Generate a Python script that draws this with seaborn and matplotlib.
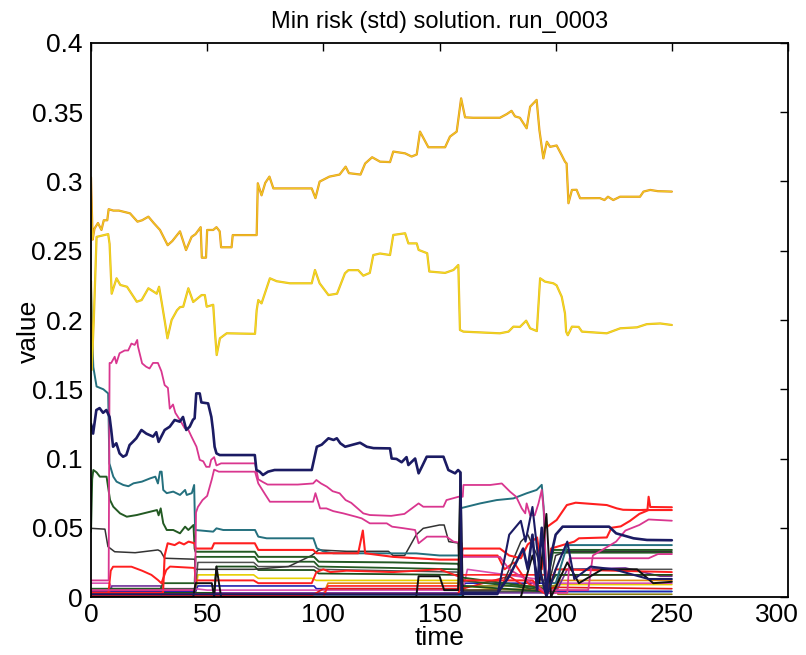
import matplotlib
matplotlib.use("Agg")
import matplotlib.pyplot as plt
from matplotlib.ticker import FuncFormatter
from matplotlib.transforms import ScaledTranslation
import seaborn as sns

sns.set_theme(style="white")
plt.rcParams['font.family'] = ['Liberation Sans', 'DejaVu Sans']
plt.rcParams['text.color'] = 'black'
plt.rcParams['axes.labelcolor'] = 'black'

TITLE = "Min risk (std) solution. run_0003"
X_TICKS = [0, 50, 100, 150, 200, 250, 300]
Y_TICKS = [0, 0.05, 0.1, 0.15, 0.2, 0.25, 0.3, 0.35, 0.4]

# Portfolio weight paths, stored as (time, value) knots
w_gold_hi = [(0, 0.303), (0.7, 0.258), (1.5, 0.266), (3, 0.27), (4.5, 0.265), (5.5, 0.272), (7, 0.272),
             (7.6, 0.28), (9.6, 0.279), (12, 0.279), (16.8, 0.277), (20, 0.271), (22, 0.272), (24.7, 0.2746),
             (27, 0.27), (29.7, 0.265), (33, 0.254), (35, 0.257), (38.3, 0.264), (40.9, 0.2505), (43.3, 0.26),
             (45, 0.262), (47.2, 0.267), (47.7, 0.245), (49.5, 0.245), (50, 0.265), (52.6, 0.265), (54, 0.267),
             (55.4, 0.264), (56, 0.2525), (60.5, 0.2525), (61, 0.2613), (71.3, 0.2613), (71.8, 0.2987),
             (73.4, 0.29), (75, 0.299), (76.8, 0.3035), (78.5, 0.295), (95, 0.295), (96.6, 0.288),
             (98.4, 0.2999), (102.6, 0.3035), (107, 0.305), (109.6, 0.3107), (111, 0.306), (116, 0.305),
             (118, 0.313), (121, 0.3175), (124.4, 0.3143), (128.7, 0.314), (130.1, 0.3216), (135.2, 0.3203),
             (138, 0.318), (140.2, 0.3195), (141.6, 0.336), (145.2, 0.3247), (152.4, 0.3247), (154.5, 0.3324),
             (157.4, 0.336), (159.3, 0.36), (161, 0.3463), (164.5, 0.346), (176, 0.346), (179, 0.3487),
             (181, 0.351), (182.5, 0.347), (184.6, 0.346), (187.5, 0.3384), (189, 0.354), (191.8, 0.3589),
             (193, 0.337), (194, 0.325), (194.7, 0.3167), (196.2, 0.3287), (197.6, 0.325), (200.4, 0.326),
             (202.6, 0.319), (204, 0.3143), (204.7, 0.313), (205.5, 0.2843), (207, 0.2939), (209, 0.294),
             (210.5, 0.2879), (219, 0.288), (221, 0.2866), (222.5, 0.289), (224.8, 0.2866), (227.7, 0.289),
             (236.3, 0.289), (237.8, 0.2927), (240.7, 0.2939), (244, 0.293), (250, 0.2927)]

w_gold_lo = [(0, 0.228), (0.3, 0.164), (1.2, 0.2), (2.4, 0.26), (7.4, 0.262), (8, 0.255), (8.9, 0.219),
             (11, 0.2301), (12.6, 0.2253), (15.5, 0.224), (19.7, 0.2132), (21.8, 0.2144), (24.7, 0.2229),
             (28.3, 0.219), (29.3, 0.224), (30.5, 0.212), (31.9, 0.1976), (32.9, 0.1868), (34.7, 0.2),
             (37, 0.207), (38.3, 0.2093), (39.7, 0.2096), (41.9, 0.2229), (44, 0.213), (47.6, 0.218),
             (49, 0.218), (49.8, 0.2096), (52.6, 0.211), (53.4, 0.1904), (54.1, 0.1747), (55.5, 0.1868),
             (58.4, 0.1904), (70.6, 0.19), (71.3, 0.207), (72, 0.2144), (73.4, 0.212), (77, 0.2301),
             (79.9, 0.228), (85.6, 0.2265), (95, 0.2265), (96.4, 0.2361), (98.4, 0.2265), (102.2, 0.218),
             (105.9, 0.219), (109.3, 0.2337), (110.8, 0.236), (115, 0.236), (117.2, 0.232), (120, 0.234),
             (121.5, 0.2469), (124.4, 0.248), (128.7, 0.2469), (130.1, 0.2614), (135.2, 0.2626),
             (136.6, 0.2553), (140.2, 0.2553), (141, 0.2506), (144.7, 0.2482), (145.6, 0.235), (152.4, 0.234),
             (156, 0.2361), (158.1, 0.2397), (158.8, 0.1928), (160.3, 0.1916), (176, 0.1904), (179.7, 0.1916),
             (181.8, 0.1952), (184.6, 0.195), (187.3, 0.1995), (189, 0.194), (191.9, 0.192), (193.3, 0.2301),
             (195.4, 0.2277), (199, 0.2265), (200.4, 0.225), (202.6, 0.2168), (204, 0.2048), (204.5, 0.1916),
             (205.2, 0.189), (207, 0.1952), (209.9, 0.195), (211.3, 0.1916), (222, 0.1904), (227.8, 0.194),
             (235, 0.1947), (239.2, 0.197), (245, 0.1975), (250, 0.1964)]

w_magenta_a = [(0, 0.012), (7.6, 0.012), (8, 0.169), (8.7, 0.169), (10.2, 0.1735), (10.9, 0.1687), (12.3, 0.176),
               (14.5, 0.178), (16, 0.178), (17.4, 0.183), (18.8, 0.182), (19.9, 0.1856), (20.2, 0.181),
               (22, 0.1687), (23.7, 0.1663), (25.2, 0.165), (26.7, 0.169), (28.8, 0.169), (30.3, 0.163),
               (31.7, 0.153), (33.1, 0.151), (33.9, 0.136), (35.3, 0.139), (36.3, 0.133), (38.2, 0.128),
               (40.3, 0.122), (41.8, 0.121), (43.2, 0.116), (45.4, 0.1085), (46.8, 0.099), (48.3, 0.098),
               (49.6, 0.094), (51, 0.094), (51.7, 0.099), (53, 0.101), (54, 0.095), (56, 0.0965),
               (70.6, 0.0965), (72, 0.085), (74, 0.083), (76, 0.0812), (89, 0.0812), (95.6, 0.082),
               (97, 0.0845), (99, 0.082), (101.5, 0.0797), (104, 0.0764), (107, 0.0749), (109.6, 0.07),
               (112, 0.068), (117.2, 0.0604), (120, 0.0592), (129.2, 0.0586), (134.9, 0.06), (141, 0.0676),
               (143, 0.0652), (151.7, 0.0652), (153, 0.07), (158.2, 0.0724), (160, 0.0724), (160.3, 0.0809),
               (171.8, 0.0809), (176.8, 0.082), (180.4, 0.076), (183, 0.0724), (185.4, 0.064), (186.9, 0.0604),
               (187.5, 0.0676), (189, 0.059), (191, 0.059), (192.6, 0.0676), (194, 0.0773), (195, 0.06),
               (196, 0.005), (214, 0.005), (216, 0.03), (226, 0.04), (230, 0.048), (236, 0.052), (240, 0.056),
               (250, 0.0551)]

w_magenta_b = [(0, 0.005), (44.8, 0.005), (45.2, 0.061), (46, 0.065), (48, 0.07), (50, 0.073), (52, 0.085),
               (53, 0.092), (55, 0.0905), (70.6, 0.0905), (72, 0.082), (75, 0.074), (77, 0.0688),
               (95.6, 0.0688), (96.6, 0.075), (98.6, 0.064), (101.3, 0.064), (104.3, 0.062), (108.6, 0.0604),
               (114, 0.058), (116.5, 0.0568), (120, 0.0532), (127.3, 0.0532), (129.6, 0.0508), (134.4, 0.0497),
               (139.5, 0.0484), (141, 0.0388), (144.6, 0.0436), (153, 0.0436), (156, 0.04), (159.5, 0.039),
               (160, 0.029), (176, 0.029), (180, 0.02), (190, 0.01), (196, 0.003), (205, 0.003), (206, 0.028),
               (240, 0.028), (244, 0.031), (250, 0.031)]

w_navy = [(0, 0.125), (0.9, 0.118), (2.3, 0.135), (3.7, 0.1364), (5.2, 0.133), (6.6, 0.135), (8, 0.13),
          (8.7, 0.1206), (9.5, 0.1085), (10.9, 0.111), (12.3, 0.1037), (13.8, 0.1013), (15.2, 0.1025),
          (16.6, 0.1097), (18.1, 0.1122), (19.5, 0.1146), (21.7, 0.1206), (23.8, 0.118), (26.7, 0.1158),
          (28.1, 0.119), (29.1, 0.112), (30.3, 0.116), (31.7, 0.1206), (33.9, 0.123), (36, 0.1278),
          (38.2, 0.1266), (39.6, 0.13), (41, 0.1206), (42.5, 0.123), (43.9, 0.128), (44.6, 0.129),
          (45.3, 0.147), (46.8, 0.147), (47.5, 0.1405), (50.4, 0.1398), (51.8, 0.13), (52.5, 0.1206),
          (53.2, 0.1085), (54, 0.1037), (55.4, 0.1025), (70.5, 0.1025), (71.2, 0.0917), (72.6, 0.0905),
          (74, 0.0881), (76.2, 0.0905), (79, 0.0917), (95, 0.0917), (97.2, 0.1085), (99.3, 0.11),
          (102.2, 0.1146), (104.4, 0.1134), (105.8, 0.1146), (107.3, 0.111), (109.4, 0.1085),
          (115.8, 0.1114), (118.7, 0.1085), (121.6, 0.1075), (128.7, 0.1073), (129.4, 0.1), (131.5, 0.0997),
          (133.7, 0.0973), (135.8, 0.101), (136.6, 0.0953), (139.5, 0.1), (141, 0.0893), (142.4, 0.094),
          (144.5, 0.1013), (151.7, 0.1013), (153.8, 0.0917), (156.7, 0.0893), (158, 0.0917), (159, 0.09),
          (159.5, 0.003), (175, 0.003), (180, 0.015), (186, 0.035), (188, 0.02), (190, 0.045), (192, 0.005),
          (194, 0.05), (196, 0.003), (198, 0.03), (200, 0.045), (203, 0.0508), (223, 0.0508), (226, 0.046),
          (233.5, 0.0424), (239.3, 0.0412), (250, 0.041)]

w_teal = [(0, 0.225), (0.5, 0.19), (1, 0.166), (2.4, 0.152), (5.3, 0.15), (7.4, 0.147), (7.9, 0.0965),
          (9.6, 0.0869), (11, 0.0833), (13.9, 0.0809), (16.1, 0.08), (18.3, 0.0821), (21.9, 0.0833),
          (25.5, 0.0857), (27.7, 0.0869), (28.8, 0.082), (29.7, 0.0905), (30.4, 0.0905), (31.1, 0.0773),
          (32.6, 0.075), (35.4, 0.0761), (38.3, 0.0737), (40.5, 0.0773), (41.2, 0.0737), (43.4, 0.075),
          (44.4, 0.0809), (44.8, 0.0484), (52.6, 0.0472), (54, 0.0496), (56.9, 0.0484), (70.6, 0.0484),
          (72, 0.0436), (75.6, 0.0424), (95.7, 0.0424), (97.2, 0.0352), (100.2, 0.0328), (104.3, 0.0316),
          (140, 0.0315), (150, 0.03), (158.5, 0.03), (158.8, 0.064), (161.7, 0.0652), (167.5, 0.0676),
          (174.6, 0.07), (181.8, 0.0712), (187.5, 0.0749), (191.8, 0.0773), (194, 0.081), (194.8, 0.065),
          (196, 0.01), (200, 0.01), (205, 0.0375), (250, 0.0375)]

w_green = [(0, 0.047), (0.5, 0.085), (1, 0.0917), (2.4, 0.09), (3.8, 0.0869), (6.7, 0.0869), (8.2, 0.07),
           (9.6, 0.0652), (12.5, 0.0604), (15.4, 0.058), (19.7, 0.0592), (22.6, 0.0604), (25.5, 0.0616),
           (28.4, 0.0628), (29.1, 0.059), (30, 0.064), (31.1, 0.0532), (32.6, 0.0484), (35.4, 0.0484),
           (38.3, 0.046), (40.5, 0.0508), (41.9, 0.0484), (44.1, 0.052), (44.6, 0.035), (45, 0.0327),
           (70.5, 0.0327), (72, 0.029), (96, 0.029), (98, 0.0255), (130, 0.025), (158, 0.024), (160, 0.014),
           (196, 0.006), (199, 0.034), (250, 0.034)]

w_red_hi = [(0, 0.003), (31, 0.003), (31.7, 0.03), (33, 0.0388), (36, 0.0375), (38, 0.0395), (40, 0.038),
            (42, 0.04), (44.6, 0.0388), (45, 0.035), (52, 0.035), (53, 0.0388), (70.5, 0.0388), (72, 0.034),
            (95.7, 0.034), (97, 0.0316), (115, 0.0316), (117, 0.048), (118, 0.0316), (130, 0.029),
            (140, 0.028), (150, 0.027), (159, 0.027), (160, 0.035), (176, 0.035), (180, 0.03), (185, 0.028),
            (188, 0.038), (192, 0.043), (194, 0.02), (195.4, 0.0496), (200.4, 0.0556), (204.8, 0.0664),
            (208.6, 0.0681), (222, 0.0664), (226.3, 0.064), (229, 0.063), (236.3, 0.0628), (239.5, 0.063),
            (240, 0.0724), (240.7, 0.065), (250, 0.0648)]

w_red_mid = [(0, 0.002), (158, 0.002), (160, 0.012), (190, 0.012), (196, 0.002), (198, 0.035), (208, 0.04),
             (210, 0.0424), (222, 0.043), (224, 0.05), (228, 0.051), (232, 0.055), (236, 0.06), (240, 0.0628),
             (250, 0.0628)]

w_red_lo = [(0, 0.003), (7.5, 0.003), (8.5, 0.019), (9.5, 0.0219), (17.4, 0.0219), (22, 0.019), (26, 0.016),
            (28.8, 0.0123), (30.3, 0.01), (32.4, 0.0195), (34, 0.022), (44.6, 0.021), (45, 0.012), (70, 0.012),
            (72, 0.01), (95, 0.01), (97, 0.018), (100, 0.02), (103, 0.018), (110, 0.019), (130, 0.018),
            (150, 0.02), (158, 0.015), (160, 0.03), (175, 0.03), (178, 0.02), (182, 0.025), (188, 0.01),
            (196, 0.002), (200, 0.02), (250, 0.018)]

w_black = [(0, 0.0496), (6, 0.049), (7.3, 0.0364), (10.2, 0.0327), (19, 0.032), (28.8, 0.034), (30, 0.033),
           (31.7, 0.028), (44.6, 0.0273), (45, 0.02), (55, 0.02), (70, 0.02), (85, 0.022), (95, 0.03),
           (98, 0.034), (110, 0.033), (128, 0.033), (130, 0.03), (135, 0.03), (140, 0.045), (143, 0.0496),
           (150, 0.052), (152, 0.052), (154, 0.04), (158, 0.039), (159, 0.005), (176, 0.005), (180, 0.02),
           (185, 0.04), (188, 0.045), (192, 0.03), (196, 0.002), (200, 0.03), (205, 0.033), (250, 0.033)]

w_green2 = [(0, 0.006), (30, 0.006), (31, 0.01), (44.6, 0.01), (45, 0.029), (70.5, 0.029), (72, 0.0255),
            (96, 0.0255), (98, 0.022), (130, 0.021), (158, 0.02), (160, 0.012), (196, 0.005), (198, 0.032),
            (250, 0.032)]
w_green3 = [(0, 0.003), (53, 0.003), (54, 0.022), (70.5, 0.022), (72, 0.0195), (96, 0.0195), (98, 0.017),
            (158, 0.016), (160, 0.008), (196, 0.004), (200, 0.016), (250, 0.016)]
w_yellow = [(0, 0.002), (45, 0.002), (46, 0.016), (70, 0.016), (72, 0.0135), (95, 0.0135), (97, 0.012),
            (158, 0.012), (160, 0.008), (196, 0.003), (200, 0.009), (250, 0.009)]
w_blue = [(0, 0.004), (45, 0.004), (46, 0.008), (96, 0.008), (97, 0.006), (160, 0.006), (161, 0.01),
          (196, 0.01), (197, 0.004), (250, 0.004)]
w_pink = [(0, 0.01), (8, 0.01), (9, 0.006), (45, 0.006), (50, 0.005), (160, 0.005), (162, 0.02),
          (196, 0.012), (200, 0.01), (250, 0.01)]
w_cyan = [(0, 0.001), (160, 0.001), (162, 0.004), (250, 0.004)]
w_orange = [(0, 0.002), (100, 0.002), (102, 0.01), (158, 0.01), (160, 0.005), (200, 0.006), (202, 0.012),
            (250, 0.012)]
w_purple = [(0, 0.004), (8, 0.004), (9, 0.008), (30, 0.008), (31, 0.003), (200, 0.003), (205, 0.02),
            (230, 0.021), (245, 0.015), (250, 0.015)]
w_gray = [(0, 0.0), (30, 0.0), (31, 0.006), (45, 0.006), (46, 0.025), (70, 0.025), (72, 0.022), (96, 0.022),
          (98, 0.02), (158, 0.018), (160, 0.004), (200, 0.004), (202, 0.02), (250, 0.02)]
w_red_lo3 = [(0, 0.0), (100, 0.0), (102, 0.008), (158, 0.008), (160, 0.016), (250, 0.016)]
w_dark1 = [(0, 0.0), (44, 0.0), (45, 0.01), (52, 0.01), (53, 0.0), (54, 0.022), (56, 0.0), (140, 0.0),
           (141, 0.015), (150, 0.015), (152, 0.005), (158, 0.005), (159, 0.09), (160, 0.0), (185, 0.0),
           (190, 0.03), (193, 0.01), (196, 0.06), (198, 0.0), (205, 0.025), (210, 0.01), (220, 0.02),
           (235, 0.02), (242, 0.01), (250, 0.011)]
w_dark2 = [(0, 0.002), (175, 0.002), (180, 0.045), (185, 0.055), (187, 0.04), (190, 0.065), (193, 0.02),
           (196, 0.0), (200, 0.02), (205, 0.04), (208, 0.013), (215, 0.022), (225, 0.02), (240, 0.013),
           (250, 0.013)]
w_red_lo2 = [(0, 0.001), (95, 0.001), (100, 0.006), (160, 0.006), (180, 0.015), (190, 0.004), (200, 0.007),
             (250, 0.006)]
w_olive = [(0, 0.0), (160, 0.0), (161, 0.008), (200, 0.008), (201, 0.002), (250, 0.002)]

SERIES = [
    (w_yellow, "#e6cf00", 1.2), (w_cyan, "#1fa3c4", 1.2), (w_olive, "#8a7d10", 1.2),
    (w_orange, "#e08a10", 1.2), (w_blue, "#2323b0", 1.2), (w_pink, "#d94fb0", 1.2),
    (w_purple, "#70309a", 1.2), (w_red_lo2, "#e01a1a", 1.2), (w_red_lo3, "#ff2020", 1.2),
    (w_gray, "#505050", 1.1), (w_green3, "#1c4d1c", 1.3),
    (w_green2, "#235a23", 1.3), (w_red_lo, "#ff1f1f", 1.4), (w_black, "#333333", 1.1),
    (w_green, "#235a23", 1.4), (w_teal, "#24707e", 1.4), (w_red_mid, "#ff1f1f", 1.5),
    (w_red_hi, "#ff1f1f", 1.5), (w_magenta_b, "#d9368f", 1.3), (w_magenta_a, "#d9368f", 1.3),
    (w_dark1, "#111111", 1.4), (w_dark2, "#1b1b63", 1.5), (w_navy, "#1b1b63", 1.9),
]

fig = plt.figure(figsize=(8.06, 6.55), dpi=100)
ax = fig.add_axes([0.1129, 0.0885, 0.8648, 0.8459])

for knots, color, lw in SERIES:
    t = [k[0] for k in knots]
    v = [k[1] for k in knots]
    sns.lineplot(x=t, y=v, ax=ax, color=color, lw=lw, estimator=None, sort=False)

# two gold paths: orange underlay with a yellow core
for knots, under, core in ((w_gold_lo, "#e6b323", "#f2de1e"), (w_gold_hi, "#e3901e", "#f0cc22")):
    t = [k[0] for k in knots]
    v = [k[1] for k in knots]
    sns.lineplot(x=t, y=v, ax=ax, color=under, lw=1.6, estimator=None, sort=False)
    sns.lineplot(x=t, y=v, ax=ax, color=core, lw=0.8, estimator=None, sort=False)

ax.set_xlim(0, 300)
ax.set_ylim(0, 0.4)
ax.set_xticks(X_TICKS)
ax.set_yticks(Y_TICKS)
ax.yaxis.set_major_formatter(FuncFormatter(lambda v, p: f"{v:g}"))
ax.xaxis.set_major_formatter(FuncFormatter(lambda v, p: f"{v:g}"))
ax.tick_params(direction="in", top=True, right=True, length=6, width=1.0,
               labelsize=19, colors="black", labelcolor="black")
ax.tick_params(axis="x", pad=4)
ax.tick_params(axis="y", pad=6)
for s in ax.spines.values():
    s.set_color("black")
    s.set_linewidth(1.3)

# keep the last x tick label inside the canvas
last = ax.get_xticklabels()[-1]
last.set_transform(last.get_transform() + ScaledTranslation(-8 / 72, 0, fig.dpi_scale_trans))

ax.set_title(TITLE, fontsize=17, pad=11, color="black")
ax.set_xlabel("time", fontsize=19, color="black")
ax.set_ylabel("value", fontsize=19, color="black")
ax.xaxis.set_label_coords(0.5, -0.052)
ax.yaxis.set_label_coords(-0.072, 0.48)
ax.set_facecolor("white")
fig.patch.set_facecolor("white")

fig.savefig("out.png", dpi=100, facecolor="white")
